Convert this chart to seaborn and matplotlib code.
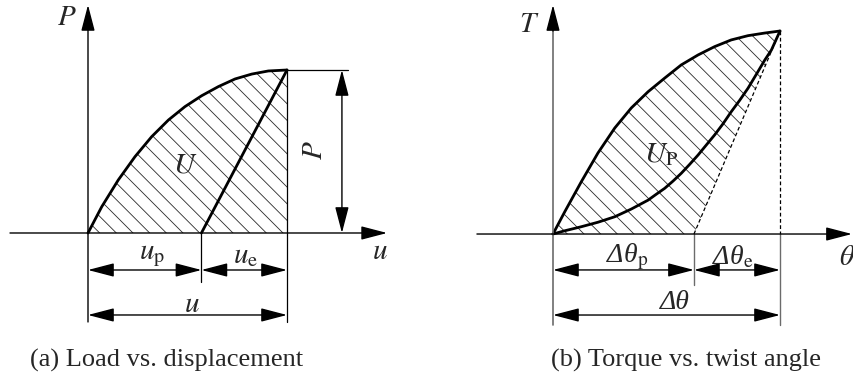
import numpy as np
import pandas as pd
import matplotlib
matplotlib.use("Agg")
import matplotlib.pyplot as plt
import seaborn as sns

# ---- (a) load vs. displacement, normalised so that u = 1 and P = 1 at the peak ----
load_u = [0.0, 0.069, 0.152, 0.236, 0.320, 0.404, 0.487, 0.571, 0.655, 0.739, 0.823, 0.906, 1.0]
load_P = [0.0, 0.161, 0.325, 0.468, 0.591, 0.693, 0.775, 0.842, 0.898, 0.945, 0.975, 0.994, 1.0]
u_plastic = 0.57          # residual displacement after unloading
u_total = 1.0
P_peak = 1.0

# ---- (b) torque vs. twist angle, normalised so that Δθ = 1 and T = 1 at the peak ----
twist_load = [0.0, 0.052, 0.125, 0.198, 0.272, 0.345, 0.419, 0.492, 0.565, 0.639, 0.712,
              0.785, 0.859, 0.933, 1.0]
torque_load = [0.0, 0.110, 0.258, 0.399, 0.522, 0.621, 0.701, 0.768, 0.833, 0.882, 0.923,
               0.956, 0.977, 0.990, 1.0]
twist_unload = [0.0, 0.052, 0.125, 0.198, 0.272, 0.345, 0.419, 0.455, 0.492, 0.529, 0.565,
                0.602, 0.639, 0.675, 0.712, 0.749, 0.785, 0.822, 0.859, 0.896, 0.933,
                0.962, 1.0]
torque_unload = [0.0, 0.016, 0.036, 0.058, 0.085, 0.123, 0.167, 0.196, 0.225, 0.261, 0.299,
                 0.343, 0.389, 0.438, 0.488, 0.543, 0.602, 0.658, 0.718, 0.787, 0.857,
                 0.906, 1.0]
twist_plastic = 0.621
twist_total = 1.0
T_peak = 1.0

captions = ["(a) Load vs. displacement", "(b) Torque vs. twist angle"]

sns.set_theme(style="white")
plt.rcParams["font.family"] = ["Liberation Serif", "DejaVu Serif"]
plt.rcParams["mathtext.fontset"] = "stix"
plt.rcParams["hatch.linewidth"] = 0.6

fig = plt.figure(figsize=(8.54, 3.81), dpi=100)
axL = fig.add_axes([0.0, 0.0, 0.5, 1.0])
axR = fig.add_axes([0.5, 0.0, 0.5, 1.0])
axL.set_xlim(-0.4422, 1.7035)
axL.set_ylim(-0.908, 1.4294)
axR.set_xlim(-0.555, 1.326)
axR.set_ylim(-0.724, 1.1527)
for ax in (axL, axR):
    ax.set_axis_off()

K = "black"
G = "#6b6b6b"
HATCH = "#2a2a2a"
MATH = 21


def arrow(ax, p0, p1, style="-|>", color=K, lw=1.0, scale=14):
    ax.annotate("", xy=p1, xytext=p0,
                arrowprops=dict(arrowstyle=f"{style},head_length=1.15,head_width=0.3",
                                mutation_scale=scale, shrinkA=0, shrinkB=0,
                                color=color, lw=lw))


def dim(ax, x0, x1, y):
    arrow(ax, (x0, y), (x1, y), style="<|-|>")


def delta_label(ax, x, y, sub=""):
    # italic Δθ from the serif italic face, upright subscript through mathtext
    s = "Δθ" + (r"$_{\mathrm{%s}}$" % sub if sub else "")
    ax.text(x, y, s, fontsize=MATH - 1, ha="center", va="center",
            family="Liberation Serif", style="italic")


# ================= panel (a) =================
ax = axL
# hatched work area under the loading curve
ax.fill(load_u + [u_total], load_P + [0.0], facecolor="none",
        edgecolor=HATCH, hatch="\\\\", linewidth=0)
df_load = pd.DataFrame({"u": load_u, "P": load_P})
sns.lineplot(data=df_load, x="u", y="P", ax=ax, color=K, lw=2.0, sort=False,
             estimator=None)
sns.lineplot(x=[u_plastic, u_total], y=[0.0, P_peak], ax=ax, color=K, lw=2.0,
             estimator=None, sort=False)
# right edge of the area and the peak level line
ax.plot([u_total, u_total], [P_peak, -0.546], color=K, lw=0.9)
ax.plot([u_total, 1.307], [P_peak, P_peak], color=K, lw=0.9)
# coordinate axes
arrow(ax, (-0.392, 0), (1.503, 0), lw=1.0)
arrow(ax, (0, -0.546), (0, 1.399), lw=1.0)
# extension line and dimension arrows
ax.plot([u_plastic, u_plastic], [0, -0.30], color=K, lw=0.9)
dim(ax, 0, u_plastic, -0.227)
dim(ax, u_plastic, u_total, -0.227)
dim(ax, 0, u_total, -0.503)
arrow(ax, (1.276, 0), (1.276, P_peak), style="<|-|>")
# labels
ax.text(-0.106, 1.319, "$P$", fontsize=MATH, ha="center", va="center")
ax.text(1.467, -0.117, "$u$", fontsize=MATH, ha="center", va="center")
ax.text(1.141, 0.509, "$P$", fontsize=MATH, ha="center", va="center", rotation=90)
ax.text(0.487, 0.417, "$U$", fontsize=MATH, ha="center", va="center")
ax.text(0.32, -0.141, r"$u_{\mathrm{p}}$", fontsize=MATH, ha="center", va="center")
ax.text(0.79, -0.141, r"$u_{\mathrm{e}}$", fontsize=MATH, ha="center", va="center")
ax.text(0.523, -0.44, "$u$", fontsize=MATH, ha="center", va="center")

# ================= panel (b) =================
ax = axR
ax.fill(twist_load + [twist_plastic], torque_load + [0.0], facecolor="none",
        edgecolor=HATCH, hatch="\\\\", linewidth=0)
df_tw = pd.DataFrame({
    "theta": twist_load + twist_unload,
    "T": torque_load + torque_unload,
    "branch": ["load"] * len(twist_load) + ["unload"] * len(twist_unload),
})
sns.lineplot(data=df_tw, x="theta", y="T", units="branch", estimator=None,
             sort=False, ax=ax, color=K, lw=2.0)
# elastic unloading line and peak projection
ax.plot([twist_plastic, twist_total], [0, T_peak], color=K, lw=0.9, ls=(0, (3, 2)))
ax.plot([twist_total, twist_total], [T_peak, 0], color=K, lw=0.9, ls=(0, (3, 2)))
ax.plot([twist_total, twist_total], [0, -0.448], color=G, lw=1.0)
# coordinate axes
arrow(ax, (-0.335, 0), (1.317, 0), lw=1.0)
ax.plot([0, 0], [-0.448, 1.05], color=G, lw=1.2)
arrow(ax, (0, 1.0), (0, 1.128), color=K, lw=1.0)
ax.plot([twist_plastic, twist_plastic], [0, -0.251], color=G, lw=1.0)
dim(ax, 0, twist_plastic, -0.177)
dim(ax, twist_plastic, twist_total, -0.177)
dim(ax, 0, twist_total, -0.399)
# labels
ax.text(-0.106, 1.03, "$T$", fontsize=MATH, ha="center", va="center")
ax.text(1.295, -0.118, r"$\theta$", fontsize=MATH, ha="center", va="center")
ax.text(0.476, 0.389, r"$U_{\mathrm{P}}$", fontsize=MATH, ha="center", va="center")
delta_label(ax, 0.326, -0.113, "p")
delta_label(ax, 0.793, -0.113, "e")
delta_label(ax, 0.537, -0.335)

# captions
fig.text(167 / 854, 1 - 360 / 381, captions[0], fontsize=19, ha="center", va="center")
fig.text(686 / 854, 1 - 360 / 381, captions[1], fontsize=19, ha="center", va="center")

fig.savefig("out.png", dpi=100, facecolor="white")
